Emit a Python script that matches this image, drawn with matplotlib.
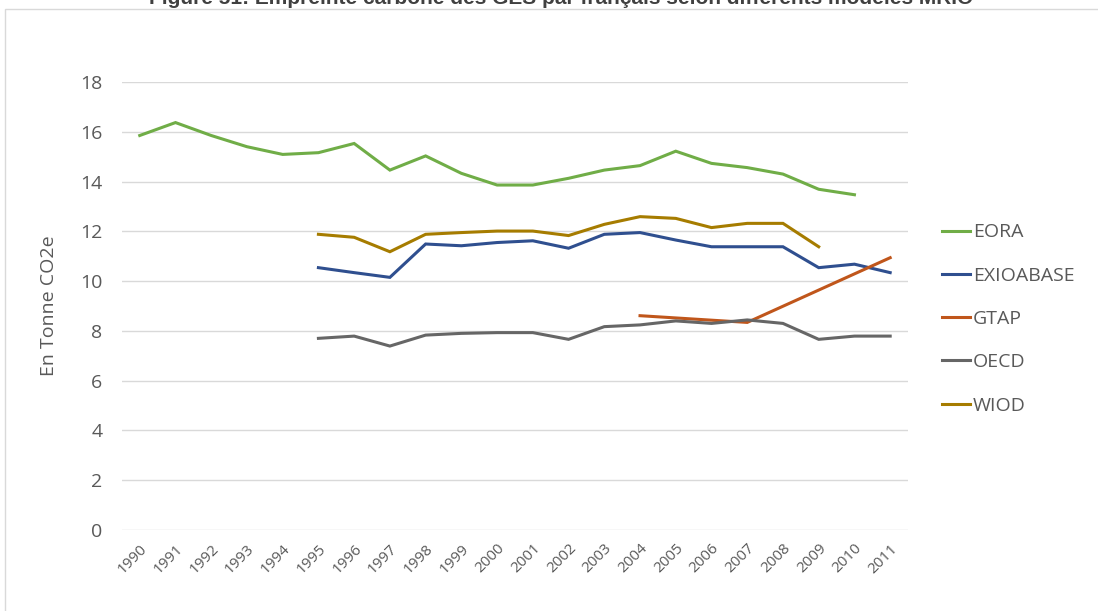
import numpy as np
import matplotlib.pyplot as plt
from matplotlib.patches import Rectangle

# data
years = list(range(1990, 2012))

eora_years = list(range(1990, 2011))
eora = [15.85, 16.37, 15.85, 15.40, 15.09, 15.16, 15.53, 14.46, 15.03, 14.33, 13.86,
        13.86, 14.13, 14.46, 14.64, 15.22, 14.73, 14.56, 14.30, 13.69, 13.47]

exio_years = list(range(1995, 2012))
exiobase = [10.54, 10.34, 10.15, 11.49, 11.42, 11.55, 11.62, 11.32, 11.88, 11.95,
            11.65, 11.38, 11.38, 11.38, 10.54, 10.68, 10.34]

gtap_years = [2004, 2007, 2011]
gtap = [8.61, 8.34, 10.94]

oecd_years = list(range(1995, 2012))
oecd = [7.70, 7.79, 7.39, 7.83, 7.90, 7.93, 7.93, 7.66, 8.17, 8.24, 8.40, 8.30,
        8.44, 8.30, 7.66, 7.79, 7.79]

wiod_years = list(range(1995, 2010))
wiod = [11.88, 11.76, 11.18, 11.88, 11.95, 12.01, 12.01, 11.83, 12.28, 12.59,
        12.52, 12.15, 12.32, 12.32, 11.38]

series = [
    ("EORA", eora_years, eora, "#70AD47"),
    ("EXIOABASE", exio_years, exiobase, "#2F4F8F"),
    ("GTAP", gtap_years, gtap, "#C0561B"),
    ("OECD", oecd_years, oecd, "#666666"),
    ("WIOD", wiod_years, wiod, "#A67C00"),
]

plt.rcParams['font.family'] = ['Open Sans', 'DejaVu Sans']

fig = plt.figure(figsize=(10.98, 6.11), dpi=100)
ax = fig.add_axes([0.111, 0.1326, 0.716, 0.7332])

for name, xs, ys, col in series:
    ax.plot(xs, ys, color=col, lw=2.2, label=name, solid_joinstyle='miter')

ax.set_xlim(1989.5, 2011.5)
ax.set_ylim(0, 18)
ax.set_yticks(range(0, 19, 2))
ax.set_xticks(years)
ax.set_xticklabels([str(y) for y in years], rotation=45, ha='right',
                   rotation_mode='anchor', fontsize=11, color='#595959')
ax.tick_params(axis='y', labelsize=14, labelcolor='#595959', length=0, pad=14)
ax.tick_params(axis='x', length=0, pad=8)
ax.grid(axis='y', color='#D9D9D9', lw=1)
ax.set_axisbelow(True)
for s in ax.spines.values():
    s.set_visible(False)
ax.set_ylabel("En Tonne CO2e", fontsize=14, color='#595959', labelpad=16)

leg = fig.legend(loc='upper left', bbox_to_anchor=(0.851, 0.647), frameon=False,
                 fontsize=14, handlelength=1.45, handletextpad=0.12,
                 labelspacing=1.3, borderaxespad=0)
for t in leg.get_texts():
    t.set_color('#595959')

# chart frame and cropped caption
fig.patches.append(Rectangle((0.005, -0.01), 1.0, 0.995, transform=fig.transFigure,
                             fill=False, edgecolor='#D9D9D9', lw=1))
fig.text(0.511, 0.9935, "Figure 51: Empreinte carbone des GES par français selon différents modèles MRIO",
         ha='center', va='baseline', fontsize=15, fontweight='bold',
         color='#404040', family='Liberation Sans')

plt.savefig('out.png', dpi=100)
